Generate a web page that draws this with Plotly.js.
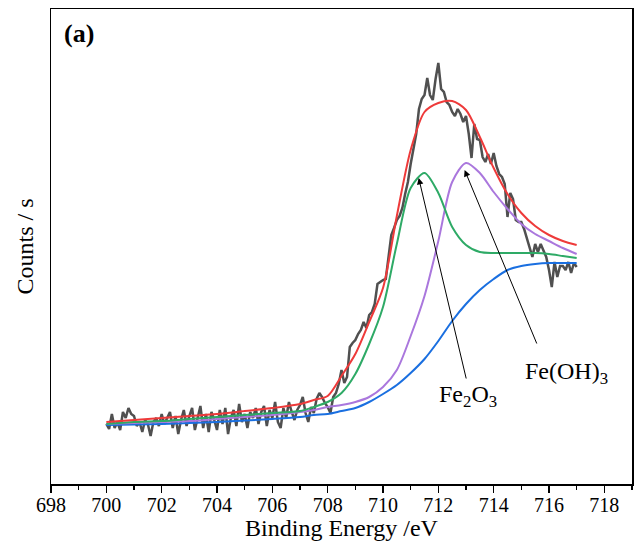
<!DOCTYPE html>
<html>
<head>
<meta charset="utf-8">
<script src="https://cdn.plot.ly/plotly-3.0.1.min.js"></script>
<style>html,body{margin:0;padding:0;background:#fff;}#chart{width:635px;height:550px;}</style>
</head>
<body>
<div id="chart"></div>
<script>
// Raw spectrum: binding energy (eV) and counts (arbitrary units)
const rawEnergy = [];
for (let i = 0; i <= 170; i++) rawEnergy.push(+(700 + i * 0.1).toFixed(1));
const rawCounts = [
  60,55,70,56,62,54,72,66,76,70,
  68,58,62,52,64,60,48,62,66,58,
  70,60,66,72,56,68,50,64,74,58,
  68,76,54,66,78,56,70,52,72,64,
  54,74,60,76,50,66,74,58,80,62,
  70,56,72,66,76,60,72,78,58,74,
  66,82,62,56,76,66,82,72,64,74,
  79,87,71,62,77,71,85,91,87,81,
  77,71,87,91,100,114,101,107,137,141,
  144,150,154,162,156,169,172,180,200,202,
  204,205,230,249,256,264,268,276,290,302,
  320,335,350,375,385,389,406,389,384,405,
  421,395,392,382,379,372,368,375,370,362,
  368,350,326,360,345,344,327,322,330,320,
  331,318,310,307,300,267,291,285,264,262,
  262,255,245,237,227,240,232,240,234,227,
  214,197,222,207,218,218,214,222,211,221,
  217
];

// Fitted components
const fitEnergy = [700,701,702,703,704,705,706,707,707.5,708,708.5,709,709.5,710,710.5,711,711.5,712,712.5,713,713.5,714,714.5,715,715.5,716,716.5,717];
const envelope  = [62,64,66,68,70,73,76,80,84,88,108,130,162,196,268,334,372,381,383,374,347,316,290,271,258,249,243,239];
const fe2o3     = [60,62,63,65,67,69,71,73,77,82,91,110,140,177,240,296,311,291,257,239,232,231,231,231,231,230,228,226];
const feoh3     = [60,61,62,63,65,67,69,72,74,77,79,82,87,97,114,148,188,243,302,321,311,292,275,260,250,243,236,230];
const background= [59,59.5,60,61,62,63.5,65,67,69,70,73,76,82,90,99,111,125,143,163,180,194,205,214,218,220,221,221,221];

const xTickVals = [698,700,702,704,706,708,710,712,714,716,718];
const xTickText = ["698","700","702","704","706","708","710","712","714","716","718"];

const fontFam = "'Liberation Serif','Times New Roman',serif";

const traces = [
  {x: rawEnergy, y: rawCounts, mode: 'lines', line: {color: '#505050', width: 2.5}, hoverinfo: 'skip'},
  {x: fitEnergy, y: background, mode: 'lines', line: {color: '#1a6fe0', width: 2, shape: 'spline', smoothing: 0.8}},
  {x: fitEnergy, y: feoh3, mode: 'lines', line: {color: '#aa77dd', width: 2, shape: 'spline', smoothing: 0.8}},
  {x: fitEnergy, y: fe2o3, mode: 'lines', line: {color: '#2eaa66', width: 2, shape: 'spline', smoothing: 0.8}},
  {x: fitEnergy, y: envelope, mode: 'lines', line: {color: '#ee3a3a', width: 2, shape: 'spline', smoothing: 0.8}}
];

const layout = {
  width: 635, height: 550,
  margin: {l: 51, r: 3, t: 9, b: 66},
  paper_bgcolor: '#fff', plot_bgcolor: '#fff',
  showlegend: false,
  font: {family: fontFam, color: '#000'},
  xaxis: {
    range: [698, 719], tickvals: xTickVals, ticktext: xTickText,
    ticks: 'outside', ticklen: 7, tickwidth: 1.5, tickcolor: '#000',
    ticklabelstandoff: -5,
    minor: {dtick: 1, ticks: 'outside', ticklen: 4, tickwidth: 1.5, tickcolor: '#000'},
    showline: true, linecolor: '#000', linewidth: 1.5, mirror: true,
    showgrid: false, zeroline: false,
    tickfont: {family: fontFam, size: 20, color: '#000'},
    title: {text: 'Binding Energy /eV', font: {family: fontFam, size: 24, color: '#000'}, standoff: 1}
  },
  yaxis: {
    range: [0, 475], showticklabels: false, ticks: '',
    showline: true, linecolor: '#000', linewidth: 1.5, mirror: true,
    showgrid: false, zeroline: false,
    title: {text: 'Counts / s', font: {family: fontFam, size: 24, color: '#000'}, standoff: 9}
  },
  annotations: [
    {xref: 'paper', yref: 'paper', x: 0.019, y: 0.949, xanchor: 'left', yanchor: 'middle',
     text: '<b>(a)</b>', showarrow: false, font: {family: fontFam, size: 26, color: '#000'}},
    {x: 711.29, y: 306, ax: 713.02, ay: 104, axref: 'x', ayref: 'y', text: '',
     showarrow: true, arrowhead: 2, arrowsize: 1.3, arrowwidth: 1, arrowcolor: '#000'},
    {x: 712.95, y: 314, ax: 715.58, ay: 139, axref: 'x', ayref: 'y', text: '',
     showarrow: true, arrowhead: 2, arrowsize: 1.3, arrowwidth: 1, arrowcolor: '#000'},
    {x: 713.09, y: 88, text: 'Fe<sub>2</sub>O<sub>3</sub>', showarrow: false,
     font: {family: fontFam, size: 24, color: '#000'}},
    {x: 716.63, y: 111, text: 'Fe(OH)<sub>3</sub>', showarrow: false,
     font: {family: fontFam, size: 24, color: '#000'}}
  ]
};

Plotly.newPlot('chart', traces, layout, {displayModeBar: false, staticPlot: true});
</script>
</body>
</html>
